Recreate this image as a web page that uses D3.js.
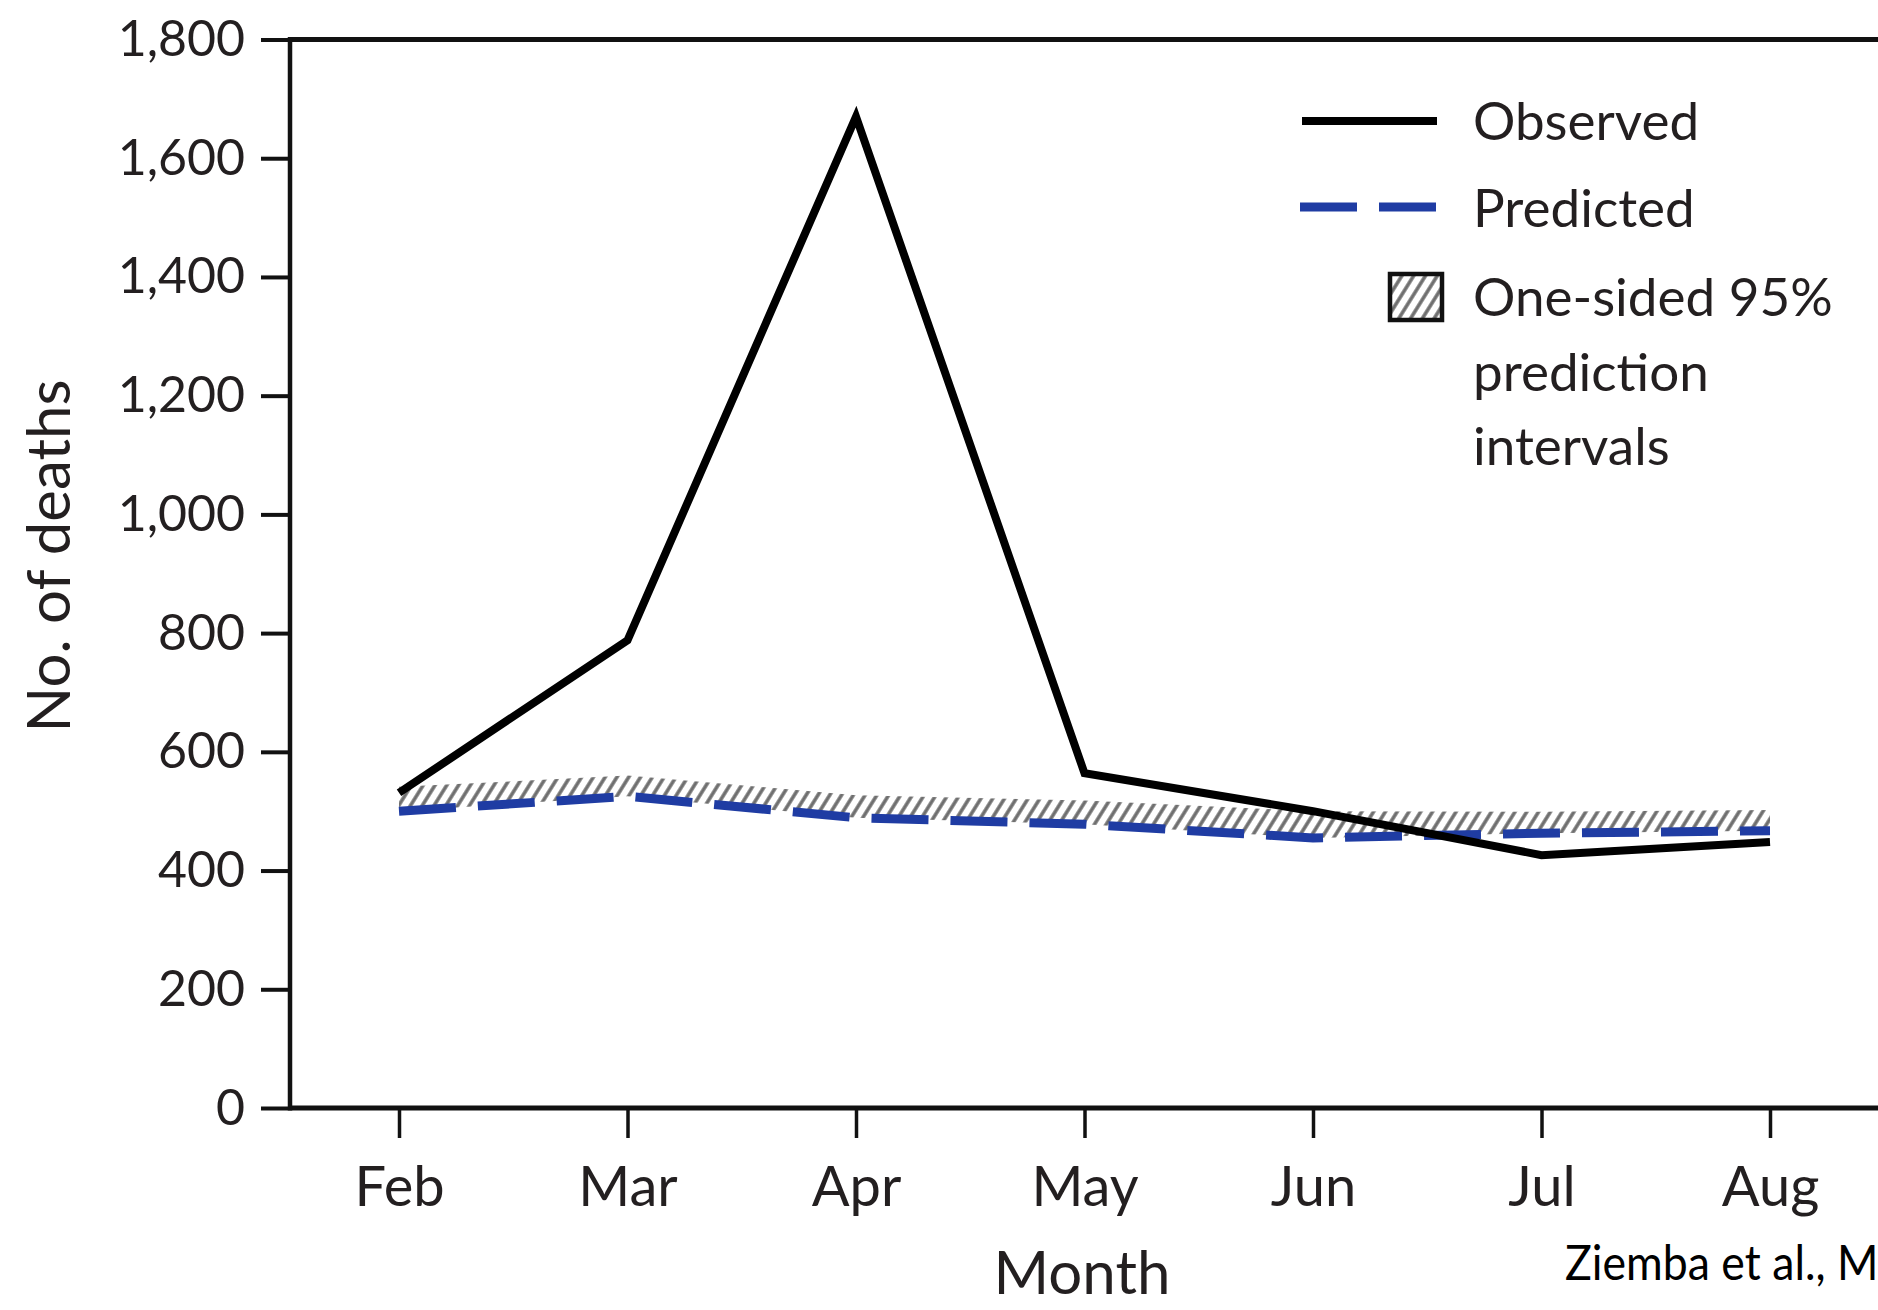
<!DOCTYPE html>
<html>
<head>
<meta charset="utf-8">
<script src="https://cdn.jsdelivr.net/npm/d3@7"></script>
<style>
  body { margin: 0; background: #fff; }
  svg { display: block; }
  text { font-family: Lato, "Open Sans", sans-serif; fill: #231f20; }
</style>
</head>
<body>
<svg id="chart" width="1878" height="1310"></svg>
<script>
// data
var months = ["Feb", "Mar", "Apr", "May", "Jun", "Jul", "Aug"];
var observed = [531, 788, 1670, 564, 500, 426, 448];
var predicted = [500, 525, 489, 478, 455, 463, 467];
var upper95 = [541, 560, 527, 518, 500, 499, 502];
var yTicks = [0, 200, 400, 600, 800, 1000, 1200, 1400, 1600, 1800];

var W = 1878, H = 1310;
var plotLeft = 290, plotTop = 39.5, plotBottom = 1108, plotRight = W + 20;

var svg = d3.select("#chart");

var x = d3.scalePoint().domain(months).range([399, 1770]);
var y = d3.scaleLinear().domain([0, 1800]).range([plotBottom, plotTop]);

// hatch pattern
var defs = svg.append("defs");
var pat = defs.append("pattern")
  .attr("id", "hatch")
  .attr("width", 10).attr("height", 10)
  .attr("patternUnits", "userSpaceOnUse")
  .attr("patternTransform", "rotate(32)");
pat.append("rect").attr("width", 10).attr("height", 10).attr("fill", "#fff");
pat.append("line")
  .attr("x1", 5).attr("y1", 0).attr("x2", 5).attr("y2", 10)
  .attr("stroke", "#6e6e6e").attr("stroke-width", 3.5);

var rows = months.map(function(m, i) {
  return { m: m, obs: observed[i], pred: predicted[i], up: upper95[i] };
});

// band
svg.append("path")
  .datum(rows)
  .attr("fill", "url(#hatch)")
  .attr("d", d3.area()
    .x(function(d) { return x(d.m); })
    .y0(function(d) { return y(d.pred); })
    .y1(function(d) { return y(d.up); }));

// predicted
svg.append("path")
  .datum(rows)
  .attr("fill", "none")
  .attr("stroke", "#1f3ca3")
  .attr("stroke-width", 9)
  .attr("stroke-dasharray", "57,22")
  .attr("d", d3.line()
    .x(function(d) { return x(d.m); })
    .y(function(d) { return y(d.pred); }));

// observed
svg.append("path")
  .datum(rows)
  .attr("fill", "none")
  .attr("stroke", "#000")
  .attr("stroke-width", 8)
  .attr("stroke-linejoin", "miter")
  .attr("d", d3.line()
    .x(function(d) { return x(d.m); })
    .y(function(d) { return y(d.obs); }));

// frame
svg.append("line").attr("x1", plotLeft).attr("x2", plotRight).attr("y1", plotTop).attr("y2", plotTop)
  .attr("stroke", "#111").attr("stroke-width", 5);
svg.append("line").attr("x1", plotLeft).attr("x2", plotRight).attr("y1", plotBottom).attr("y2", plotBottom)
  .attr("stroke", "#111").attr("stroke-width", 5);
svg.append("line").attr("x1", plotLeft).attr("x2", plotLeft).attr("y1", plotTop - 2.5).attr("y2", plotBottom + 2.5)
  .attr("stroke", "#111").attr("stroke-width", 4.5);

// y axis
var yAxis = svg.append("g")
  .attr("transform", "translate(" + plotLeft + ",0)")
  .call(d3.axisLeft(y).tickValues(yTicks).tickFormat(d3.format(",")).tickSize(29).tickPadding(16));
yAxis.select(".domain").remove();
yAxis.selectAll(".tick line").attr("stroke", "#111").attr("stroke-width", 4);
yAxis.selectAll(".tick text")
  .attr("font-size", 50)
  .attr("font-family", "Lato")
  .attr("fill", "#231f20");

// x axis
var xAxis = svg.append("g")
  .attr("transform", "translate(0," + plotBottom + ")")
  .call(d3.axisBottom(x).tickSize(30).tickPadding(28));
xAxis.select(".domain").remove();
xAxis.selectAll(".tick line").attr("stroke", "#111").attr("stroke-width", 3.5);
xAxis.selectAll(".tick text")
  .attr("font-size", 56)
  .attr("font-family", "Lato")
  .attr("fill", "#231f20");

// axis titles
svg.append("text")
  .attr("x", 1082).attr("y", 1294)
  .attr("text-anchor", "middle")
  .attr("font-size", 60)
  .text("Month");

svg.append("text")
  .attr("transform", "translate(70,556) rotate(-90)")
  .attr("text-anchor", "middle")
  .attr("font-size", 60)
  .text("No. of deaths");

// legend
var lg = svg.append("g").attr("class", "legend");
lg.append("line").attr("x1", 1302).attr("x2", 1437).attr("y1", 121).attr("y2", 121)
  .attr("stroke", "#000").attr("stroke-width", 8);
lg.append("line").attr("x1", 1300).attr("x2", 1438).attr("y1", 207).attr("y2", 207)
  .attr("stroke", "#1f3ca3").attr("stroke-width", 9).attr("stroke-dasharray", "57,22");
lg.append("rect").attr("x", 1390).attr("y", 274).attr("width", 52).attr("height", 46)
  .attr("fill", "url(#hatch)").attr("stroke", "#111").attr("stroke-width", 4.5);

var legendText = [
  { t: "Observed", y: 140 },
  { t: "Predicted", y: 227 },
  { t: "One-sided 95%", y: 316 },
  { t: "prediction", y: 391 },
  { t: "intervals", y: 465 }
];
lg.selectAll(".lt")
  .data(legendText)
  .enter()
  .append("text")
  .attr("class", "lt")
  .attr("x", 1473)
  .attr("y", function(d) { return d.y; })
  .attr("font-size", 53)
  .text(function(d) { return d.t; });

// source note (cut off at the right edge, as in the original)
svg.append("text")
  .attr("transform", "translate(1565,1280) scale(0.93,1)")
  .attr("font-size", 48)
  .style("fill", "#000")
  .text("Ziemba et al., MMWR");
</script>
</body>
</html>
